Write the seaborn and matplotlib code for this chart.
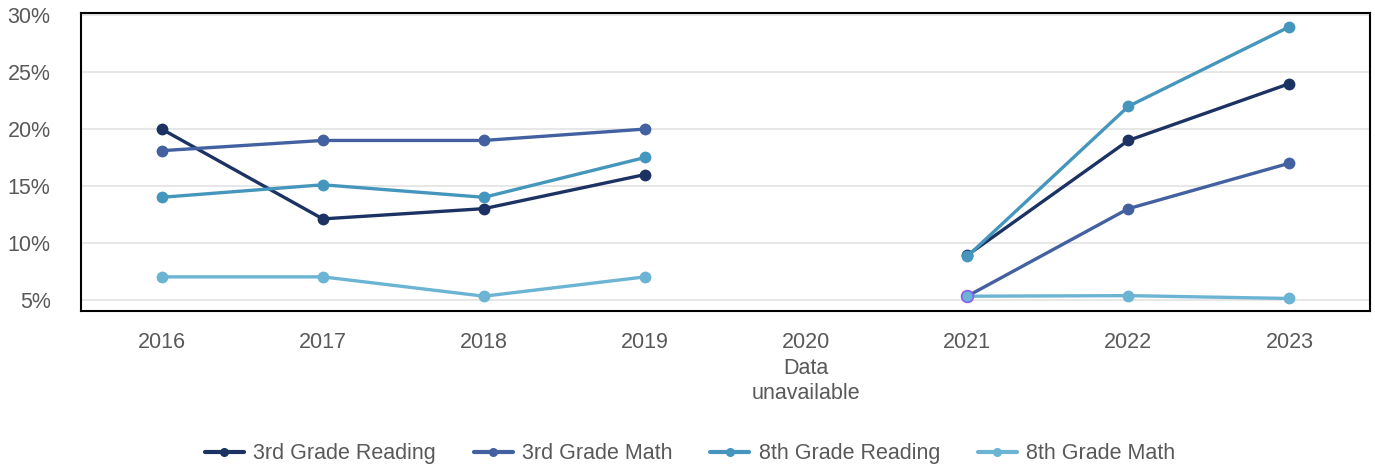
import pandas as pd
import matplotlib.pyplot as plt
import seaborn as sns
import numpy as np

# Values (percent); 2020 has no data
years = [2016, 2017, 2018, 2019, 2020, 2021, 2022, 2023]
reading_3rd = [20.0, 12.1, 13.0, 16.0, np.nan, 8.9, 19.0, 24.0]
math_3rd = [18.1, 19.0, 19.0, 20.0, np.nan, 5.3, 13.0, 17.0]
reading_8th = [14.0, 15.1, 14.0, 17.5, np.nan, 8.8, 22.0, 29.0]
math_8th = [7.0, 7.0, 5.3, 7.0, np.nan, 5.3, 5.35, 5.1]

series_names = ['3rd Grade Reading', '3rd Grade Math', '8th Grade Reading', '8th Grade Math']
series_values = [reading_3rd, math_3rd, reading_8th, math_8th]
colors = ['#1b3263', '#4361a0', '#4596bd', '#6cb4d4']
x_labels = ['2016', '2017', '2018', '2019', '2020\nData\nunavailable', '2021', '2022', '2023']
y_ticks = [5, 10, 15, 20, 25, 30]

# long table; "period" splits the line at the missing year
rows = []
for name, vals in zip(series_names, series_values):
    for yr, v in zip(years, vals):
        if not np.isnan(v):
            rows.append({'year': yr, 'value': v, 'series': name,
                         'period': 'before' if yr < 2020 else 'after'})
df = pd.DataFrame(rows)

sns.set_style('white')
plt.rcParams['font.family'] = ['Liberation Sans', 'DejaVu Sans']

fig = plt.figure(figsize=(13.75, 4.68), dpi=100)
ax = fig.add_axes([0.059, 0.3355, 0.9374, 0.6365])

sns.lineplot(data=df, x='year', y='value', hue='series', units='period',
             estimator=None, palette=colors, hue_order=series_names,
             marker='o', markersize=8.5, markeredgewidth=0, linewidth=2.4,
             ax=ax, zorder=3)

# the 2021 point of 8th Grade Math has a purple outline in the reference
ax.scatter([years[5]], [math_8th[5]], s=72, color=colors[3],
           edgecolor='#8a5cf0', linewidth=1.2, zorder=5)

ax.set_xlim(2015.5, 2023.5)
ax.set_ylim(4.0, 30.2)
ax.set_xticks(years)
ax.set_xticklabels(x_labels, linespacing=1.3)
ax.set_yticks(y_ticks)
ax.set_yticklabels([f'{t}%' for t in y_ticks])
ax.set_xlabel('')
ax.set_ylabel('')
ax.tick_params(axis='both', length=0, labelsize=15.5, labelcolor='#595959')
ax.tick_params(axis='x', pad=15)
ax.tick_params(axis='y', pad=22)

ax.grid(axis='y', color='#e3e3e3', linewidth=1.2, zorder=0)
ax.set_axisbelow(True)
for s in ax.spines.values():
    s.set_visible(True)
    s.set_color('black')
    s.set_linewidth(1.5)

handles, labels = ax.get_legend_handles_labels()
ax.legend_.remove()
for h in handles:
    h.set_markersize(6.5)
    h.set_linewidth(3)
fig.legend(handles, labels, loc='center', bbox_to_anchor=(0.502, 0.03),
           ncol=4, frameon=False, fontsize=15.5, labelcolor='#595959',
           columnspacing=1.75, handlelength=1.8, handletextpad=0.45)

fig.savefig('out.png', dpi=100)
